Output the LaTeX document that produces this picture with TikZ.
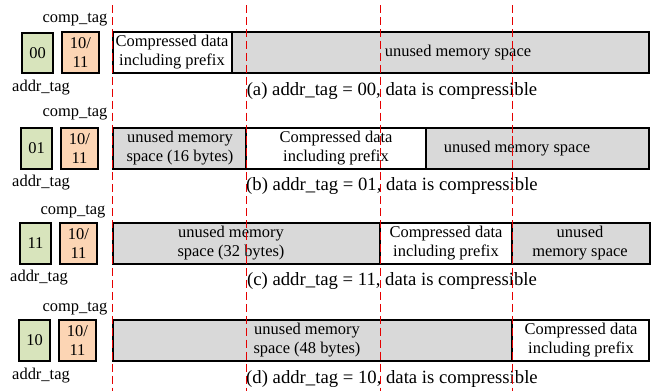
\documentclass[tikz,border=0pt]{standalone}
\usepackage{fontspec}
\setmainfont{Liberation Serif}
\usepackage{tikz}

\definecolor{addrgreen}{RGB}{216,228,188}
\definecolor{compcoral}{RGB}{252,213,180}
\definecolor{freegray}{RGB}{217,217,217}

\begin{document}
\begin{tikzpicture}[
  x=0.025cm, y=-0.025cm,
  seg/.style={line width=1.3pt,draw=black},
  free/.style={seg,fill=freegray},
  used/.style={seg,fill=white},
  addrbox/.style={seg,fill=addrgreen},
  compbox/.style={seg,fill=compcoral},
  txt/.style={font=\fontsize{11.7}{13.5}\selectfont,align=center,inner sep=0pt},
  caption/.style={font=\fontsize{13.3}{15}\selectfont,inner sep=0pt},
  boundary/.style={red!90!black,line width=0.7pt,dash pattern=on 5.7pt off 2.8pt}
]
  \useasboundingbox (0,0) rectangle (662,391);

  % (a) addr_tag = 00
  \draw[addrbox] (22,33) rectangle (53,73);
  \draw[compbox] (62,32) rectangle (99,73);
  \node[txt] (tagA) at (37.5,53) {00};
  \node[txt] (cmpA) at (80.5,52.5) {10/\\11};
  \node[txt] (cmpnameA) at (75,20) {comp\_tag};
  \node[txt] (addrnameA) at (41,88) {addr\_tag};
  \draw[used] (113,32) rectangle (232,73);
  \draw[free] (232,32) rectangle (649,73);
  \node[txt] (dataA) at (172,52.5) {Compressed data\\including prefix};
  \node[txt] (freeA) at (458,52.5) {unused memory space};
  \node[caption] (capA) at (392,91) {(a) addr\_tag = 00, data is compressible};

  % (b) addr_tag = 01
  \draw[addrbox] (21,128) rectangle (52,169);
  \draw[compbox] (61,128) rectangle (98,169);
  \node[txt] (tagB) at (36.5,148.5) {01};
  \node[txt] (cmpB) at (79.5,148.5) {10/\\11};
  \node[txt] (cmpnameB) at (75,114) {comp\_tag};
  \node[txt] (addrnameB) at (41,183) {addr\_tag};
  \draw[free] (113,128) rectangle (246,169);
  \draw[used] (246,128) rectangle (426,169);
  \draw[free] (426,128) rectangle (649,169);
  \node[txt] (freeB1) at (180,148.5) {unused memory\\space (16 bytes)};
  \node[txt] (dataB) at (336,148.5) {Compressed data\\including prefix};
  \node[txt] (freeB2) at (517,149) {unused memory space};
  \node[caption] (capB) at (392,186) {(b) addr\_tag = 01, data is compressible};

  % (c) addr_tag = 11
  \draw[addrbox] (20,223) rectangle (51,264);
  \draw[compbox] (60,223) rectangle (97,264);
  \node[txt] (tagC) at (35.5,243.5) {11};
  \node[txt] (cmpC) at (78.5,243.5) {10/\\11};
  \node[txt] (cmpnameC) at (73,212) {comp\_tag};
  \node[txt] (addrnameC) at (39,278) {addr\_tag};
  \draw[free] (113,223) rectangle (380,264);
  \draw[used] (380,223) rectangle (512,264);
  \draw[free] (512,223) rectangle (650,264);
  \node[txt] (freeC1) at (231,243.5) {unused memory\\space (32 bytes)};
  \node[txt] (dataC) at (446,243.5) {Compressed data\\including prefix};
  \node[txt] (freeC2) at (580,243.5) {unused\\memory space};
  \node[caption] (capC) at (392,281) {(c) addr\_tag = 11, data is compressible};

  % (d) addr_tag = 10
  \draw[addrbox] (19,320) rectangle (50,361);
  \draw[compbox] (59,320) rectangle (96,361);
  \node[txt] (tagD) at (34.5,340.5) {10};
  \node[txt] (cmpD) at (77.5,340.5) {10/\\11};
  \node[txt] (cmpnameD) at (75,309) {comp\_tag};
  \node[txt] (addrnameD) at (41,376) {addr\_tag};
  \draw[free] (113,320) rectangle (512,361);
  \draw[used] (512,320) rectangle (649,361);
  \node[txt] (freeD) at (307,340.5) {unused memory\\space (48 bytes)};
  \node[txt] (dataD) at (581,340.5) {Compressed data\\including prefix};
  \node[caption] (capD) at (392,379) {(d) addr\_tag = 10, data is compressible};

  % 16-byte boundaries, drawn over the blocks
  \coordinate (b0top) at (112.6,5); \coordinate (b0bot) at (112.6,391);
  \coordinate (b1top) at (246,5);   \coordinate (b1bot) at (246,391);
  \coordinate (b2top) at (380,5);   \coordinate (b2bot) at (380,391);
  \coordinate (b3top) at (512,5);   \coordinate (b3bot) at (512,391);
  \draw[boundary] (b0top) -- (b0bot);
  \draw[boundary] (b1top) -- (b1bot);
  \draw[boundary] (b2top) -- (b2bot);
  \draw[boundary] (b3top) -- (b3bot);
\end{tikzpicture}
\end{document}
